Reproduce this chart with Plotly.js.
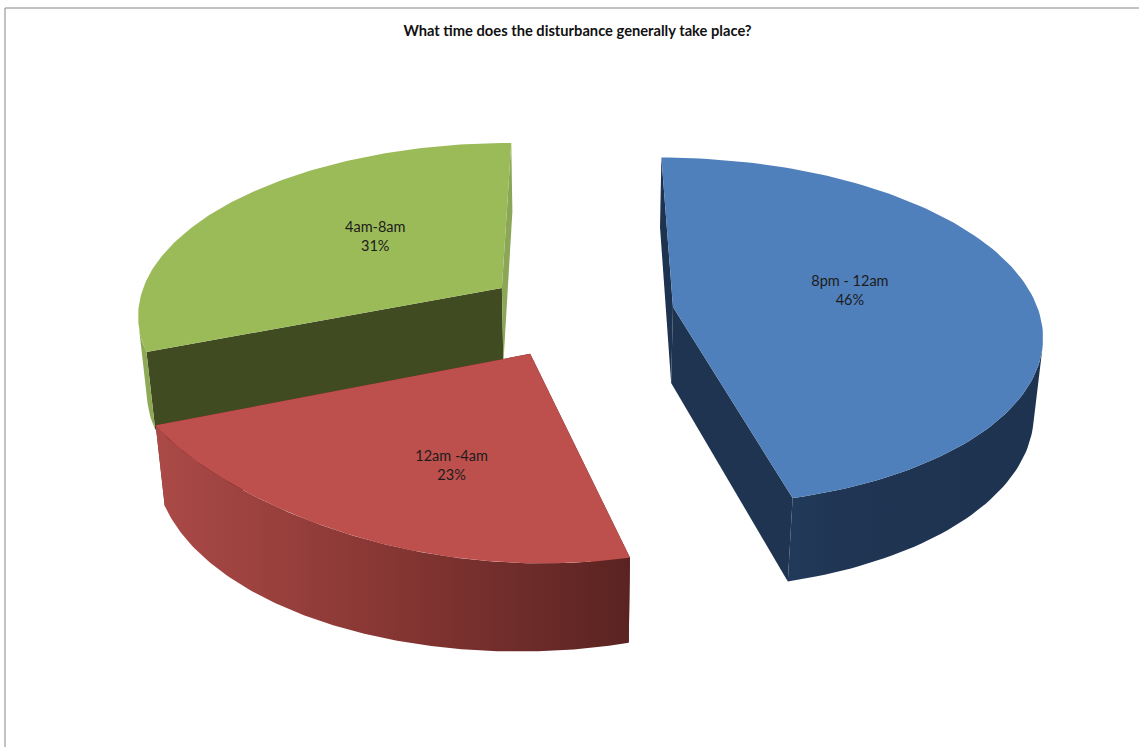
<!DOCTYPE html>
<html>
<head>
<meta charset="utf-8">
<script src="https://cdn.plot.ly/plotly-3.0.1.min.js"></script>
<style>html,body{margin:0;padding:0;background:#fff}#chart{width:1139px;height:747px}</style>
</head>
<body>
<div id="chart"></div>
<script>
// Survey answers, in drawing order clockwise from twelve o'clock
const categories = ['8pm - 12am', '12am -4am', '4am-8am'];
const percents = [46, 23, 31];
const chartTitle = 'What time does the disturbance generally take place?';

// Surface colours for each slice
const topColors = ['#4f80bb', '#bd4f4c', '#9bbb59'];
const startWallColors = ['#1e3350', '#5c2320', '#414b22'];
const endWallColors = ['#1e3451', '#5c2320', '#8aa656'];
const rimScales = [
  [[0, '#223a5a'], [0.2, '#1f3553'], [1, '#1e3350']],
  [[0, '#ab4a47'], [0.45, '#8a3835'], [1, '#5a2321']],
  [[0, '#8ea955'], [1, '#8ea955']]
];

// Where each label sits on its slice, in pie-radius units from the slice tip
const labelOffsetX = [0.495, -0.18, -0.378];
const labelOffsetY = [0.09, -0.565, 0.318];

// Small per-slice corrections to the pulled-out pie geometry
const sliceShiftX = [0, -0.011, 0];
const frontTrim = [0, 0.015, 0];
const topFlatten = [0, 0.05, 0];

// Perspective camera for the tilted pie
const cam = {vx: 579, vy: 312.6, radius: 366, depthScale: 172, persp: 0.141, drop: 77.7, dropPersp: 0.02};
const explode = 0.26;

function project(X, Y, lower) {
  const w = 1 + cam.persp * Y + (lower ? cam.dropPersp : 0);
  return [cam.vx + cam.radius * X / w, cam.vy - (cam.depthScale * Y - (lower ? cam.drop : 0)) / w];
}

function polygon(points, extra) {
  return Object.assign({
    x: points.map(p => p[0]), y: points.map(p => p[1]),
    type: 'scatter', mode: 'lines', fill: 'toself',
    line: {width: 0}, hoverinfo: 'skip', showlegend: false
  }, extra);
}

const total = percents.reduce((a, b) => a + b, 0);
const slices = [];
let running = 0;
const STEPS = 120;
percents.forEach((p, i) => {
  const a0 = running / total * 2 * Math.PI;
  running += p;
  const a1 = running / total * 2 * Math.PI;
  const mid = (a0 + a1) / 2;
  const tipX = explode * Math.sin(mid) + sliceShiftX[i], tipY = explode * Math.cos(mid);
  const arc = lower => {
    const pts = [];
    for (let k = 0; k <= STEPS; k++) {
      const t = k / STEPS;
      const a = a0 + (a1 - a0) * t;
      let r = 1 - frontTrim[i] * (1 - t);
      if (!lower) r -= topFlatten[i] * Math.sin(Math.PI * Math.pow(t, 1.5));
      pts.push(project(tipX + r * Math.sin(a), tipY + r * Math.cos(a), lower));
    }
    return pts;
  };
  const top = arc(false), low = arc(true);
  const tipTop = project(tipX, tipY, false), tipLow = project(tipX, tipY, true);

  // Keep only the stretch of outer wall that faces the viewer, so the
  // silhouette runs straight between the upper and lower arcs
  const seen = [];
  for (let k = 0; k <= STEPS; k++) {
    const j = Math.min(k, STEPS - 1);
    const tx = top[j + 1][0] - top[j][0], ty = top[j + 1][1] - top[j][1];
    const dx = low[k][0] - top[k][0], dy = low[k][1] - top[k][1];
    if (dx * ty - dy * tx > 0) seen.push(k);
  }
  const rimTop = seen.map(k => top[k]);
  const rimLow = seen.map(k => low[k]).reverse();

  slices.push({
    walls: [
      polygon([tipTop, top[0], low[0], tipLow], {fillcolor: startWallColors[i]}),
      polygon([tipTop, top[STEPS], low[STEPS], tipLow], {fillcolor: endWallColors[i]})
    ],
    rim: polygon(rimTop.concat(rimLow), {
      fillgradient: {type: 'horizontal', colorscale: rimScales[i]}
    }),
    top: polygon([tipTop].concat(top), {fillcolor: topColors[i]}),
    label: project(tipX + labelOffsetX[i], tipY + labelOffsetY[i], false)
  });
});

// Painted back to front: green, blue, then the red slice overlapping green
const traces = [];
[2, 0, 1].forEach(i => {
  traces.push(slices[i].walls[0], slices[i].walls[1], slices[i].rim, slices[i].top);
});
traces.push({
  x: slices.map(s => s.label[0]),
  y: slices.map(s => s.label[1]),
  text: categories.map((c, i) => c + '<br>' + percents[i] + '%'),
  type: 'scatter', mode: 'text', textposition: 'middle center',
  textfont: {family: 'Lato, sans-serif', size: 14.5, color: '#1c1c1c'},
  hoverinfo: 'skip', showlegend: false
});

const layout = {
  width: 1139, height: 747,
  margin: {l: 0, r: 0, t: 0, b: 0},
  paper_bgcolor: '#fff', plot_bgcolor: '#fff',
  showlegend: false,
  title: {
    text: chartTitle, x: 577.5 / 1139, xanchor: 'center', y: 1 - 31 / 747, yanchor: 'middle',
    font: {family: 'Lato, sans-serif', size: 14.7, weight: 700, color: '#111'}
  },
  xaxis: {range: [0, 1139], visible: false, fixedrange: true},
  yaxis: {range: [747, 0], visible: false, fixedrange: true},
  shapes: [
    {type: 'line', x0: 5, x1: 5, y0: 8, y1: 747, line: {color: '#868686', width: 1}},
    {type: 'line', x0: 5, x1: 1139, y0: 8, y1: 8, line: {color: '#868686', width: 1}}
  ]
};

Plotly.newPlot('chart', traces, layout, {displayModeBar: false, responsive: false});
</script>
</body>
</html>
